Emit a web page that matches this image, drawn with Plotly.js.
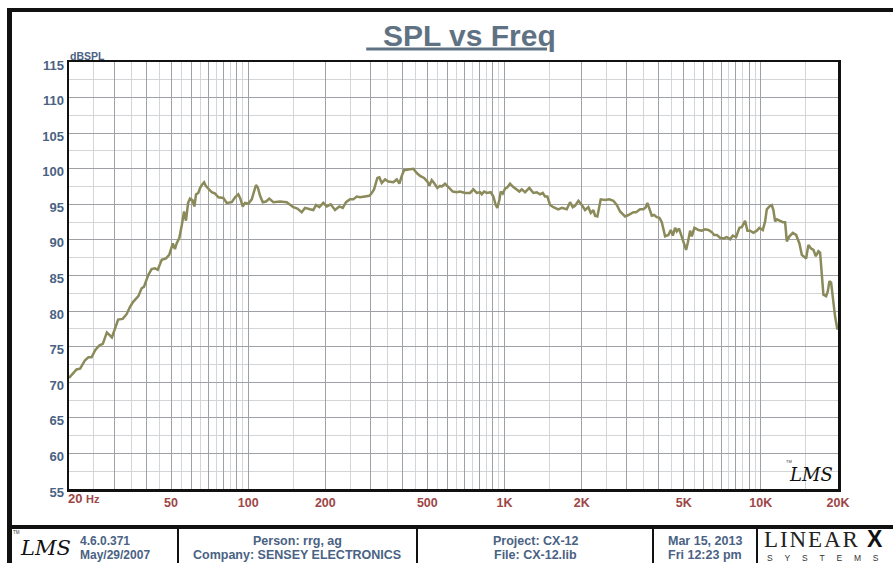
<!DOCTYPE html>
<html>
<head>
<meta charset="utf-8">
<script src="https://cdn.plot.ly/plotly-3.0.1.min.js"></script>
<style>
  html, body { margin: 0; padding: 0; background: #fff; }
  #chart { width: 893px; height: 563px; }
</style>
</head>
<body>
<div id="chart"></div>
<script>
// ---- data (Hz, dB SPL) ----
var freqHz = [
  20, 20.8, 21.4, 22.1, 23.1, 23.8, 24.5, 25.3, 26.3, 27.1, 28.1, 29.4, 30.2, 31.1, 32.4, 33.6, 34.6, 35.6, 37.3, 38.4,
  39.2, 40.8, 42.0, 43.3, 44.4, 46.0, 47.8, 49.2, 50.8, 51.8, 52.6, 53.9, 55.1, 56.2, 57.2, 58.3, 59.3, 60.6, 61.7, 62.6,
  63.9, 64.9, 66.2, 67.3, 68.3, 69.9, 72.1, 74.3, 76.5, 80.0, 82.5, 86.3, 88.9, 91.5, 93.0, 95.2, 97.2, 100.2, 103.3, 105.4,
  107.3, 109.0, 111.3, 114.0, 117.4, 120.9, 125.4, 133.1, 141.4, 150.0, 155.5, 161.8, 166.6, 174.3, 179.5, 184.0, 189.5, 196.4, 202.5, 209.9,
  218.2, 226.8, 233.9, 240.9, 249.7, 257.2, 265.2, 273.2, 285.7, 297.0, 303.5, 309.8, 319.1, 324.9, 332.0, 342.0, 352.3, 368.5, 379.9, 388.9,
  397.4, 405.6, 421.6, 441.0, 454.7, 468.4, 485.5, 500.1, 509.1, 520.2, 531.1, 547.1, 560.5, 569.1, 586.3, 603.9, 628.3, 651.3, 670.8, 701.7,
  733.9, 756.0, 779.4, 802.9, 815.2, 832.3, 852.7, 883.9, 904.7, 924.5, 937.8, 954.8, 966.9, 984.5, 1005, 1026, 1051, 1077, 1109, 1143,
  1168, 1203, 1250, 1296, 1336, 1376, 1410, 1440, 1470, 1506, 1551, 1622, 1673, 1749, 1802, 1846, 1885, 1942, 2002, 2062,
  2124, 2170, 2222, 2256, 2303, 2345, 2374, 2468, 2565, 2659, 2742, 2824, 2954, 3043, 3183, 3261, 3380, 3482, 3558, 3609,
  3675, 3755, 3833, 3927, 4020, 4108, 4231, 4359, 4453, 4534, 4629, 4700, 4798, 4885, 4987, 5110, 5189, 5297, 5378, 5506,
  5707, 5884, 6061, 6243, 6437, 6571, 6733, 6935, 7144, 7365, 7587, 7773, 8007, 8248, 8428, 8681, 8863, 9081, 9354, 9644,
  9872, 10178, 10391, 10551, 10800, 11036, 11195, 11368, 11543, 11890, 12182, 12436, 12628, 12926, 13327, 13728, 14142, 14450, 14751, 15019,
  15332, 15709, 16036, 16386, 16773, 17031, 17543, 17974, 18250, 18515, 18799, 19192, 19487, 19893, 20000
];
var splDb = [
  70.6, 71.3, 71.8, 71.9, 73.1, 73.5, 73.5, 74.5, 75.2, 75.4, 77.0, 76.3, 77.6, 78.8, 78.9, 79.6, 80.6, 81.3, 82.1, 83.2,
  83.4, 85.1, 85.9, 86.0, 85.8, 87.2, 87.4, 87.9, 89.5, 88.7, 89.5, 90.3, 92.1, 94.0, 92.7, 95.2, 95.8, 95.6, 94.7, 96.4,
  96.6, 97.3, 97.8, 98.1, 97.6, 97.2, 96.7, 96.5, 96.0, 95.9, 95.2, 95.3, 96.0, 96.4, 95.9, 94.7, 95.2, 95.1, 95.7, 96.8,
  97.7, 97.4, 96.2, 95.3, 95.4, 95.8, 95.3, 95.4, 95.3, 94.6, 94.4, 93.9, 94.5, 94.3, 94.2, 94.9, 94.6, 95.2, 94.7, 95.0,
  94.2, 94.7, 94.5, 95.3, 95.7, 95.7, 96.1, 96.0, 96.1, 96.2, 96.6, 97.1, 98.7, 98.8, 98.0, 98.5, 98.2, 98.1, 98.5, 97.9,
  99.0, 99.8, 99.9, 100.0, 99.4, 99.0, 98.7, 98.2, 97.6, 98.4, 98.0, 97.3, 97.6, 97.5, 97.9, 97.4, 96.8, 96.7, 96.8, 96.6,
  96.6, 97.1, 96.6, 96.7, 96.4, 96.8, 96.6, 96.7, 96.1, 94.9, 94.5, 95.6, 96.8, 96.5, 97.2, 97.4, 97.9, 97.5, 97.2, 96.8,
  97.1, 96.7, 97.3, 96.6, 96.7, 96.4, 96.6, 96.1, 96.1, 94.9, 94.6, 94.3, 94.5, 94.3, 95.3, 94.6, 94.8, 95.5, 94.9, 94.2,
  94.6, 93.8, 94.2, 93.4, 93.3, 94.5, 95.7, 95.6, 95.7, 95.5, 94.9, 94.0, 93.3, 93.5, 93.9, 93.9, 94.3, 94.3, 94.6, 95.2,
  94.3, 93.4, 93.5, 93.2, 93.1, 92.5, 90.5, 90.7, 91.4, 90.6, 91.7, 91.2, 91.6, 90.7, 90.0, 88.6, 89.6, 91.3, 90.5, 91.7,
  91.4, 91.3, 91.5, 91.4, 91.1, 90.7, 90.7, 90.3, 90.2, 90.4, 90.1, 90.6, 90.4, 91.7, 91.8, 92.7, 91.3, 91.3, 91.0, 91.3,
  91.7, 91.4, 92.6, 94.3, 94.7, 94.9, 94.2, 92.6, 92.9, 92.7, 92.5, 92.5, 89.8, 90.5, 91.0, 90.7, 89.5, 87.9, 87.6, 87.4,
  89.3, 88.8, 88.6, 87.7, 88.4, 88.2, 82.3, 82.1, 82.8, 84.2, 84.0, 81.1, 79.2, 77.4, 77.8
];

// ---- axis ticks / grid values ----
var xTickVals = [20, 30, 40, 50, 60, 70, 80, 90, 100, 200, 300, 400, 500, 600, 700, 800, 900,
                 1000, 2000, 3000, 4000, 5000, 6000, 7000, 8000, 9000, 10000, 20000];
var xTickText = ['', '', '', '50', '', '', '', '', '100', '200', '', '', '500', '', '', '', '',
                 '1K', '2K', '', '', '5K', '', '', '', '', '10K', '20K'];
var xMinorVals = [25, 35, 45, 55, 65, 75, 85, 95,
                  150, 250, 350, 450, 550, 650, 750, 850, 950,
                  1500, 2500, 3500, 4500, 5500, 6500, 7500, 8500, 9500, 15000];
var yTicks = [55, 60, 65, 70, 75, 80, 85, 90, 95, 100, 105, 110, 115];

// ---- footer texts ----
var footerVersion = ['4.6.0.371', 'May/29/2007'];
var footerPerson = ['Person: rrg, ag', 'Company: SENSEY ELECTRONICS'];
var footerProject = ['Project: CX-12', 'File: CX-12.lib'];
var footerDate = ['Mar 15, 2013', 'Fri 12:23 pm'];

// ---- layout helpers (pixel -> paper) ----
var L = 69, R = 838, T = 62, B = 489;
function PX(px) { return (px - L) / (R - L); }
function PY(py) { return (B - py) / (B - T); }

var narrow = 'Liberation Sans Narrow, Arial Narrow, Liberation Sans, Arial, sans-serif';
var blueTxt = '#4a6283';
var redTxt = '#9c4646';
var darkGrid = '#9ea2a6';
var lightGrid = '#d3d6d9';

var trace = {
  x: freqHz, y: splDb, type: 'scatter', mode: 'lines',
  line: { color: '#8b8a5a', width: 2.5, shape: 'linear' },
  hoverinfo: 'x+y'
};

function line(x0, y0, x1, y1, w, c) {
  return { type: 'line', xref: 'paper', yref: 'paper', x0: PX(x0), y0: PY(y0), x1: PX(x1), y1: PY(y1),
           line: { color: c || '#111', width: w }, layer: 'above' };
}
var shapes = [
  line(7, 10, 893, 10, 4),
  line(9.5, 8, 9.5, 563, 5),
  line(7, 527, 893, 527, 4),
  line(178, 527, 178, 563, 2),
  line(417, 527, 417, 563, 2),
  line(653, 527, 653, 563, 2),
  line(757, 527, 757, 563, 2)
];

function ann(text, px, py, xanchor, size, color, family) {
  return { text: text, xref: 'paper', yref: 'paper', x: PX(px), y: PY(py), xanchor: xanchor || 'center',
           yanchor: 'middle', showarrow: false,
           font: { size: size || 12, color: color || blueTxt, family: family || narrow } };
}
var bold = function (s) { return '<b>' + s + '</b>'; };
var sp5 = '\u00a0\u00a0\u00a0\u00a0\u00a0';

var annotations = [
  ann(bold('dBSPL'), 68, 56, 'left', 10.5),
  ann(bold('20 ') + '<b><span style="font-size:11px">Hz</span></b>', 66, 498, 'left', 13, redTxt),
  ann(bold(footerVersion[0]), 78, 541, 'left', 12),
  ann(bold(footerVersion[1]), 78, 555, 'left', 12),
  ann(bold(footerPerson[0]), 297, 541, 'center', 12.5),
  ann(bold(footerPerson[1]), 297, 555, 'center', 12.5),
  ann(bold(footerProject[0]), 535, 541, 'center', 12.5),
  ann(bold(footerProject[1]), 535, 555, 'center', 12.5),
  ann(bold(footerDate[0]), 705, 541, 'center', 12.5),
  ann(bold(footerDate[1]), 705, 555, 'center', 12.5),
  // LMS logos
  ann('<i>LMS</i>', 45, 548, 'center', 21, '#111', 'DejaVu Serif, serif'),
  ann('TM', 16, 532, 'center', 4.5, '#333', 'Liberation Sans, sans-serif'),
  ann('<i>LMS</i>', 811, 474, 'center', 18, '#111', 'DejaVu Serif, serif'),
  ann('TM', 789, 461, 'center', 4, '#333', 'Liberation Sans, sans-serif'),
  // LinearX logo
  ann('L\u200aI\u200aN\u200aE\u200aA\u200aR', 762, 539, 'left', 23, '#222', 'Liberation Serif, serif'),
  ann('<b>X</b>', 865, 539, 'left', 23, '#111', 'Liberation Sans, sans-serif'),
  ann(['S', 'Y', 'S', 'T', 'E', 'M', 'S'].join(sp5), 765, 557.5, 'left', 8.5, '#333', 'Liberation Sans, sans-serif')
];

var layout = {
  width: 893, height: 563,
  margin: { l: L, r: 893 - R, t: T, b: 563 - B, pad: 0 },
  paper_bgcolor: '#ffffff', plot_bgcolor: '#ffffff',
  showlegend: false,
  title: {
    text: '<b><u>\u00a0\u00a0SPL vs Freq</u></b>',
    x: 461 / 893, xref: 'container', xanchor: 'center',
    y: 1 - 35 / 563, yref: 'container', yanchor: 'middle',
    font: { size: 30, color: '#5f7284', family: 'Liberation Sans, Arial, sans-serif' }
  },
  xaxis: {
    type: 'log', range: [Math.log10(20), Math.log10(20000)],
    tickmode: 'array', tickvals: xTickVals, ticktext: xTickText,
    ticks: '', showgrid: true, gridcolor: darkGrid, gridwidth: 1,
    minor: { tickmode: 'array', tickvals: xMinorVals, showgrid: true, gridcolor: lightGrid, gridwidth: 1, ticks: '' },
    showline: true, linecolor: '#111', linewidth: 2.5, mirror: true,
    zeroline: false,
    tickfont: { size: 12.5, color: redTxt, family: narrow, weight: 'bold' },
    fixedrange: true
  },
  yaxis: {
    range: [55, 115], tickmode: 'array', tickvals: yTicks,
    ticks: '', showgrid: true, gridcolor: darkGrid, gridwidth: 1,
    minor: { dtick: 2.5, tick0: 55, showgrid: true, gridcolor: lightGrid, gridwidth: 1, ticks: '' },
    showline: true, linecolor: '#111', linewidth: 2.5, mirror: true,
    zeroline: false,
    ticklabelshift: 3,
    tickfont: { size: 13, color: blueTxt, family: narrow, weight: 'bold' },
    fixedrange: true
  },
  shapes: shapes,
  annotations: annotations
};

Plotly.newPlot('chart', [trace], layout, { displayModeBar: false, staticPlot: true });
</script>
</body>
</html>
